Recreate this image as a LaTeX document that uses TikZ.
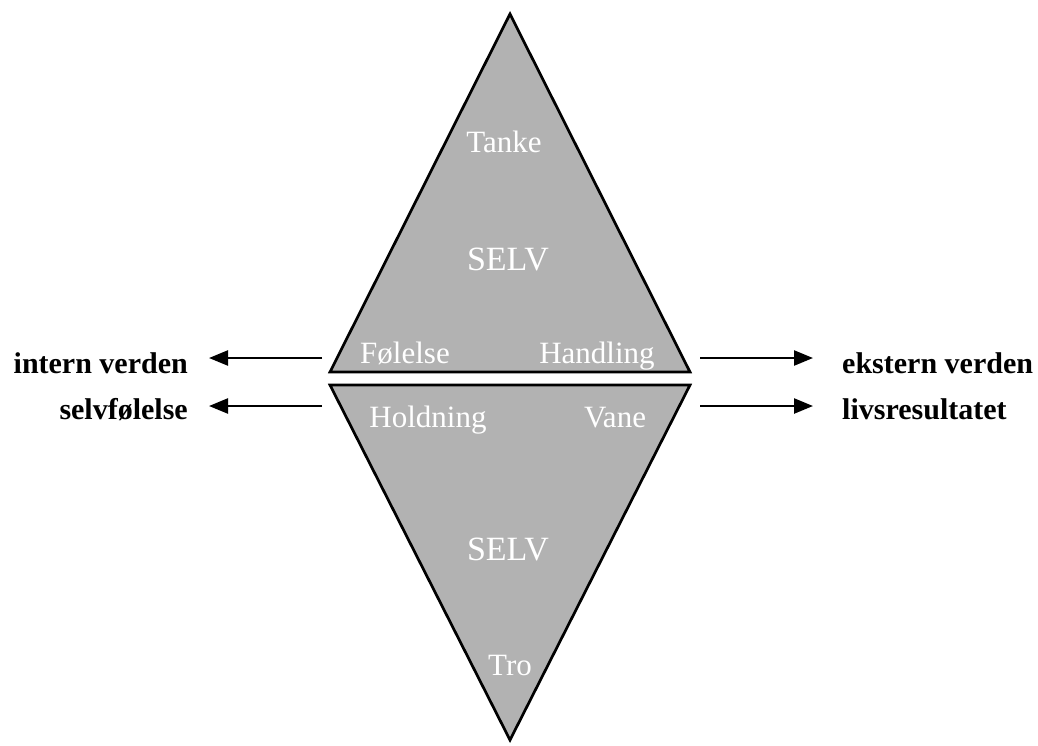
\documentclass[tikz,border=0pt]{standalone}
\usepackage{fontspec}
\setmainfont{Liberation Serif}
\usetikzlibrary{arrows.meta}
\definecolor{trifill}{gray}{0.70}
\definecolor{trishadow}{gray}{0.58}
\begin{document}
\begin{tikzpicture}[x=1pt,y=-1pt,
  tri/.style={fill=trifill,draw=black,line width=2.7pt,line join=miter},
  shadowtri/.style={fill=trishadow},
  inlabel/.style={text=white,font=\fontsize{31}{37}\selectfont,anchor=base,inner sep=0pt},
  selvlabel/.style={text=white,font=\fontsize{34}{40}\selectfont,anchor=base,inner sep=0pt},
  leftlabel/.style={font=\bfseries\fontsize{30}{36}\selectfont,inner sep=0pt,anchor=base east},
  rightlabel/.style={font=\bfseries\fontsize{30}{36}\selectfont,inner sep=0pt,anchor=base west},
  arr/.style={-{Triangle[length=19pt,width=15pt]},line width=2.4pt}]
\useasboundingbox (0,0) rectangle (1038,745);
% upper triangle
\coordinate (uTop) at (510,14);
\coordinate (uL) at (330,372);
\coordinate (uR) at (690,372);
% lower triangle
\coordinate (lL) at (330,385);
\coordinate (lR) at (690,385);
\coordinate (lBot) at (510,740);
\fill[shadowtri,shift={(3,3)}] (uTop) -- (uL) -- (uR) -- cycle;
\fill[shadowtri,shift={(3,3)}] (lL) -- (lR) -- (lBot) -- cycle;
\draw[tri] (uTop) -- (uL) -- (uR) -- cycle;
\draw[tri] (lL) -- (lR) -- (lBot) -- cycle;
% inner labels
\node[inlabel] (tanke) at (504,152) {Tanke};
\node[selvlabel] (selv1) at (508,270) {SELV};
\node[inlabel] (folelse) at (405,363) {Følelse};
\node[inlabel] (handling) at (597,363) {Handling};
\node[inlabel] (holdning) at (428,427) {Holdning};
\node[inlabel] (vane) at (615,427) {Vane};
\node[selvlabel] (selv2) at (508,560) {SELV};
\node[inlabel] (tro) at (510,675) {Tro};
% outer labels
\node[leftlabel] (intern) at (188,373) {intern verden};
\node[leftlabel] (selvf) at (188,419) {selvfølelse};
\node[rightlabel] (ekstern) at (842,373) {ekstern verden};
\node[rightlabel] (livs) at (842,419) {livsresultatet};
% arrow coordinates
\coordinate (aL1s) at (322,358);
\coordinate (aL1e) at (209,358);
\coordinate (aL2s) at (322,406);
\coordinate (aL2e) at (209,406);
\coordinate (aR1s) at (700,358);
\coordinate (aR1e) at (813,358);
\coordinate (aR2s) at (700,406);
\coordinate (aR2e) at (813,406);
\draw[arr] (aL1s) -- (aL1e);
\draw[arr] (aL2s) -- (aL2e);
\draw[arr] (aR1s) -- (aR1e);
\draw[arr] (aR2s) -- (aR2e);
\end{tikzpicture}
\end{document}
